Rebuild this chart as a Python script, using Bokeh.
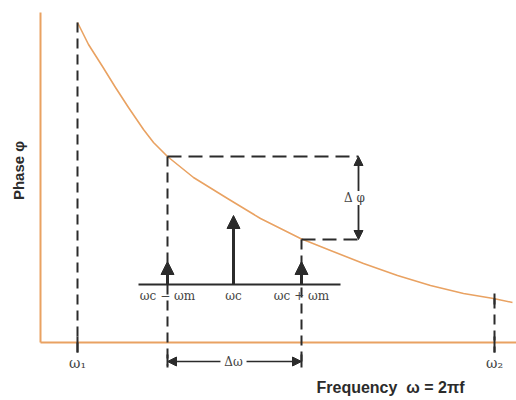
from bokeh.plotting import figure
from bokeh.models import Range1d, Arrow, NormalHead, Label, ColumnDataSource
from bokeh.embed import file_html
from bokeh.resources import INLINE

# ---- data (diagram units: frequency to the right, phase upward) ----
curve_freq = [37, 48, 62, 75, 88, 103, 113, 127, 153, 187, 220, 260, 290, 323, 357, 390, 423, 453, 472]
curve_phase = [320, 298, 276, 255, 235, 213, 200, 186, 165, 144, 124, 104, 92, 79, 67, 57, 49, 44, 40]

w1, w_lo, wc, w_hi, w2 = 37, 127, 193, 261, 454
phase_w1, phase_lo, phase_hi, phase_w2 = 320, 186, 103, 44
dphi_freq = 318
dw_phase = -19

spec_base = 58
spec_left, spec_right = 98, 300
spec_freq = [w_lo, wc, w_hi]
spec_amp = [23, 69, 23]
spec_labels = ["ωc − ωm", "ωc", "ωc + ωm"]

axis_top = 330
axis_right = 476

ORANGE = "#E9A262"
DARK = "#2b2b2b"

p = figure(width=516, height=400, x_range=Range1d(-40, 476), y_range=Range1d(-58, 342),
           output_backend="svg", toolbar_location=None, min_border=0)
p.axis.visible = False
p.grid.visible = False
p.outline_line_color = None
p.background_fill_color = "white"

# axes lines
p.segment(x0=[0, 0], y0=[0, 0], x1=[0, axis_right], y1=[axis_top, 0], line_color=ORANGE, line_width=2)

# curve
p.line(curve_freq, curve_phase, line_color=ORANGE, line_width=1.6, line_join="round")

# dashed guides (vertical)
p.segment(x0=[w1, w_lo, w_hi, w2], y0=[phase_w1, phase_lo, phase_hi, phase_w2],
          x1=[w1, w_lo, w_hi, w2], y1=[-10, -23, -23, -10],
          line_color=DARK, line_width=2, line_dash="10 6")
# dashed guides (horizontal)
p.segment(x0=[w_lo, w_hi], y0=[phase_lo, phase_hi], x1=[dphi_freq, dphi_freq], y1=[phase_lo, phase_hi],
          line_color=DARK, line_width=2, line_dash="14 7")

# solid ticks at ω1 / ω2 on the axis, and at the Δω arrow ends
p.segment(x0=[w1, w2], y0=[6, 6], x1=[w1, w2], y1=[-10, -10], line_color=DARK, line_width=2)
p.segment(x0=[w_lo, w_hi], y0=[-12, -12], x1=[w_lo, w_hi], y1=[-25, -25], line_color=DARK, line_width=2)
p.segment(x0=[w2], y0=[phase_w2 + 5], x1=[w2], y1=[phase_w2 - 6], line_color=DARK, line_width=2)

# spectrum baseline
p.segment(x0=[spec_left], y0=[spec_base], x1=[spec_right], y1=[spec_base], line_color=DARK, line_width=2)

# spectral lines
src = ColumnDataSource(dict(x0=spec_freq, y0=[spec_base] * 3, x1=spec_freq,
                            y1=[spec_base + a for a in spec_amp]))
p.add_layout(Arrow(end=NormalHead(size=13, fill_color=DARK, line_color=DARK), line_color=DARK, line_width=3,
                   x_start="x0", y_start="y0", x_end="x1", y_end="y1", source=src))

for f, lab in zip(spec_freq, spec_labels):
    p.add_layout(Label(x=f, y=spec_base - 11, text=lab, text_align="center", text_baseline="middle",
                       text_font="DejaVu Serif", text_font_size="12px", text_color="#444"))

# Δφ arrow
head = dict(size=9, fill_color=DARK, line_color=DARK)
p.add_layout(Arrow(end=NormalHead(**head), x_start=dphi_freq, y_start=(phase_lo + phase_hi) / 2,
                   x_end=dphi_freq, y_end=phase_lo, line_color=DARK, line_width=1.8))
p.add_layout(Arrow(end=NormalHead(**head), x_start=dphi_freq, y_start=(phase_lo + phase_hi) / 2,
                   x_end=dphi_freq, y_end=phase_hi, line_color=DARK, line_width=1.8))
p.add_layout(Label(x=dphi_freq - 4, y=(phase_lo + phase_hi) / 2, text="Δ φ", text_align="center",
                   text_baseline="middle", text_font="DejaVu Serif", text_font_size="12px", text_color="#444",
                   background_fill_color="white"))

# Δω arrow
p.add_layout(Arrow(start=NormalHead(**head), end=NormalHead(**head), x_start=w_lo, y_start=dw_phase,
                   x_end=w_hi, y_end=dw_phase, line_color=DARK, line_width=1.6))
p.add_layout(Label(x=wc, y=dw_phase, text="\u00a0Δω\u00a0", text_align="center", text_baseline="middle",
                   text_font="DejaVu Serif", text_font_size="12px", text_color="#444",
                   background_fill_color="white"))

# ω1 / ω2 labels
for f, lab in [(w1, "ω₁"), (w2, "ω₂")]:
    p.add_layout(Label(x=f, y=-20, text=lab, text_align="center", text_baseline="middle",
                       text_font="DejaVu Serif", text_font_size="14px", text_color="#444"))

# axis titles
p.add_layout(Label(x=350, y=-45, text="Frequency\u00a0\u00a0ω = 2πf", text_align="center", text_baseline="middle",
                   text_font="Liberation Sans", text_font_style="bold", text_font_size="16px", text_color=DARK))
p.add_layout(Label(x=-22, y=172, text="Phase φ", text_align="center", text_baseline="middle", angle=1.5708,
                   text_font="Liberation Sans", text_font_style="bold", text_font_size="15px", text_color=DARK))

open("out.html", "w").write(file_html(p, INLINE))
